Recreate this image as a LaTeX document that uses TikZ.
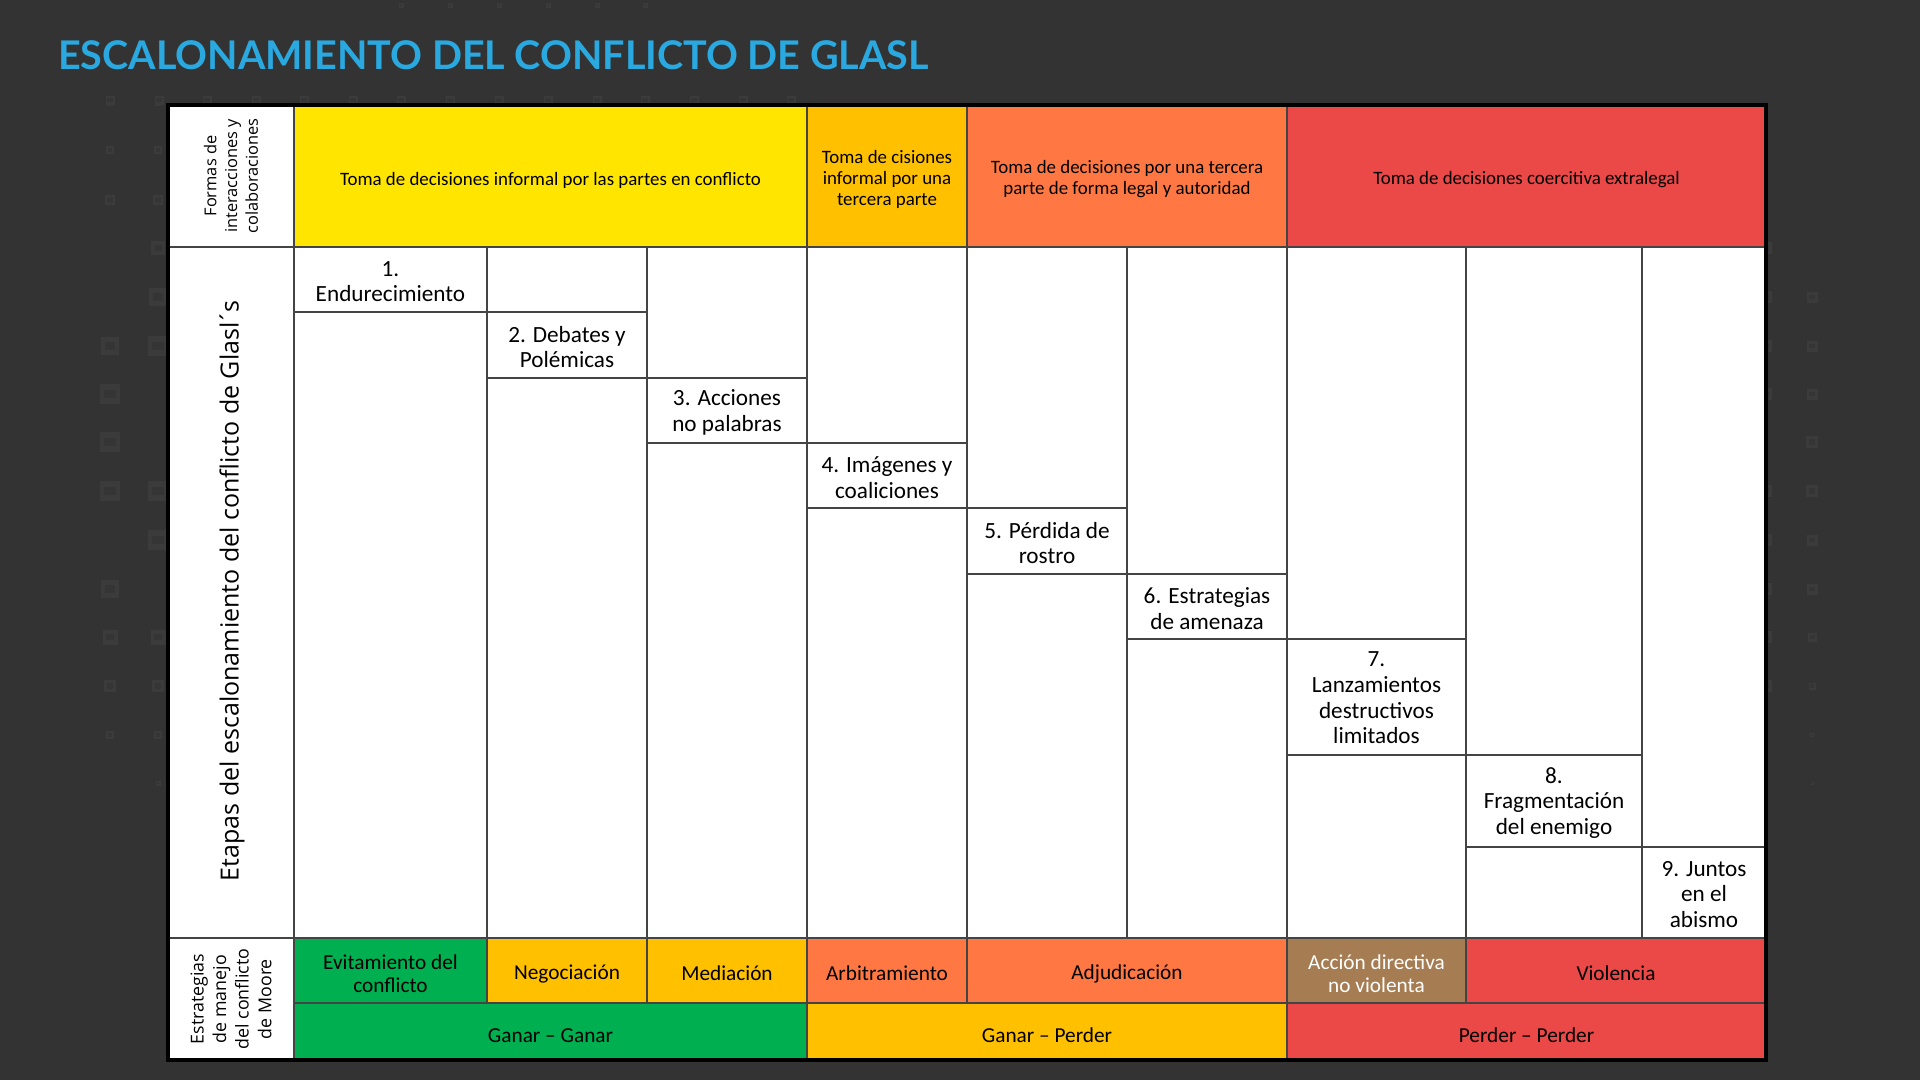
\documentclass[tikz,border=0pt]{standalone}
\usepackage{fontspec}
\setmainfont{Carlito}
\newfontfamily\titlefont{Lato}
\newfontfamily\sidefont{Open Sans}
\definecolor{bgc}{HTML}{333333}
\definecolor{decoA}{HTML}{3B3B3B}
\definecolor{decoB}{HTML}{353535}
\definecolor{titleblue}{HTML}{2AA8E0}
\definecolor{cyel}{HTML}{FFE500}
\definecolor{camb}{HTML}{FFC000}
\definecolor{cora}{HTML}{FF7843}
\definecolor{cred}{HTML}{EB4848}
\definecolor{cgrn}{HTML}{00B050}
\definecolor{cbrn}{HTML}{A67C52}
\definecolor{linec}{HTML}{444444}
\tikzset{
  cellbox/.style={draw=linec, line width=1.2pt, inner sep=0pt, align=center, rectangle},
  stagetxt/.style={font=\fontsize{23.2}{25.7}\selectfont},
  headtxt/.style={font=\fontsize{18.9}{21}\selectfont},
  mooretxt/.style={font=\fontsize{21.3}{23.5}\selectfont},
  sidetxt/.style={rotate=90, align=center, inner sep=0pt},
  gridline/.style={draw=linec, line width=1.2pt},
}
% box node (#1) and its text node (#1t), text set a little lower by #8
\newcommand\cellnode[8]{%
  \node[cellbox,#6,minimum width={(#4-#2)*1pt},minimum height={(#5-#3)*1pt}] (#1) at ({(#2+#4)/2},{(#3+#5)/2}) {};
  \node[cellbox,#6,draw=none,fill=none] (#1t) at ({(#2+#4)/2},{(#3+#5)/2+#8}) {#7};}
\newcommand\decosq[3]{%
  \fill[decoA] ({#1-#3/2},{#2-#3/2}) rectangle ({#1+#3/2},{#2+#3/2});
  \fill[decoB] ({#1-#3*0.28},{#2-#3*0.22}) rectangle ({#1+#3*0.28},{#2+#3*0.22});}
\begin{document}
\begin{tikzpicture}[x=1pt,y=-1pt]
\useasboundingbox (0,0) rectangle (1920,1080);
\fill[bgc] (0,0) rectangle (1920,1080);
% decorative faint squares
\foreach \yy/\ss in {103/6,150/8,200/10,346/18,394/20,442/20,491/20,589/18,637/15,686/12,735/8}{\decosq{110}{\yy}{\ss}}
\foreach \yy/\ss in {103/6,150/8,200/10,248/14,297/18,346/20,491/20,540/20,637/15,686/12,735/8,783/5}{\decosq{158}{\yy}{\ss}}
\foreach \yy/\ss in {297/11,346/11,394/11,442/12,491/12,540/11,589/11,637/9,686/7,735/4,783/3}{\decosq{1812}{\yy}{\ss}}
\foreach \yy in {248,297,346,394,491,540,589,637,686}{\decosq{1766}{\yy}{12}}
\foreach \xx in {401,450,499,548,597,645}{\decosq{\xx}{5}{5}}
\foreach \xx in {110,159,207,256,304,353,401,450,499,548,597,645,694,743,791}{\decosq{\xx}{100}{9}}
% title
\node[anchor=west, inner sep=0pt, text=titleblue, font=\titlefont\bfseries\fontsize{39.5}{44}\selectfont] (title) at (58,55) {ESCALONAMIENTO DEL CONFLICTO DE GLASL};
% table base
\fill[white] (168,105) rectangle (1766,1060);
% left label column
\cellnode{lab1}{168}{105}{294}{247}{fill=white}{}{0}
\cellnode{lab2}{168}{247}{294}{938}{fill=white}{}{0}
\cellnode{lab3}{168}{938}{294}{1060}{fill=white}{}{0}
\node[sidetxt, font=\sidefont\fontsize{16.4}{20.8}\selectfont] (lab1x) at (231,176) {Formas de\\interacciones y\\colaboraciones};
\node[sidetxt, font=\sidefont\fontsize{25}{28}\selectfont] (lab2x) at (232,591) {Etapas del escalonamiento del conflicto de Glasl\kern-2.5pt´\kern-2.5pt s};
\node[sidetxt, font=\sidefont\fontsize{17.8}{22.6}\selectfont] (lab3x) at (231,999) {Estrategias\\de manejo\\del conflicto\\de Moore};
% header row
\cellnode{h1}{294}{105}{807}{247}{fill=cyel,headtxt}{Toma de decisiones informal por las partes en conflicto}{4}
\cellnode{h2}{807}{105}{967}{247}{fill=camb,headtxt}{Toma de cisiones\\informal por una\\tercera parte}{3}
\cellnode{h3}{967}{105}{1287}{247}{fill=cora,headtxt}{Toma de decisiones por una tercera\\parte de forma legal y autoridad}{3}
\cellnode{h4}{1287}{105}{1766}{247}{fill=cred,headtxt}{Toma de decisiones coercitiva extralegal}{4}
% stage column lines
\foreach \xx in {487,647,807,967,1127,1287,1466,1642}{\draw[gridline] (\xx,247) -- (\xx,938);}
% stage boxes
\cellnode{s1}{294}{247}{487}{312}{fill=white,stagetxt}{1.\\Endurecimiento}{2}
\cellnode{s2}{487}{312}{647}{378}{fill=white,stagetxt}{2. Debates y\\Polémicas}{2}
\cellnode{s3}{647}{378}{807}{443}{fill=white,stagetxt}{3. Acciones\\no palabras}{2}
\cellnode{s4}{807}{443}{967}{508}{fill=white,stagetxt}{4. Imágenes y\\coaliciones}{2}
\cellnode{s5}{967}{508}{1127}{574}{fill=white,stagetxt}{5. Pérdida de\\rostro}{2}
\cellnode{s6}{1127}{574}{1287}{639}{fill=white,stagetxt}{6. Estrategias\\de amenaza}{2}
\cellnode{s7}{1287}{639}{1466}{755}{fill=white,stagetxt}{7.\\Lanzamientos\\destructivos\\limitados}{1}
\cellnode{s8}{1466}{755}{1642}{847}{fill=white,stagetxt}{8.\\Fragmentación\\del enemigo}{2}
\cellnode{s9}{1642}{847}{1766}{938}{fill=white,stagetxt}{9. Juntos\\en el\\abismo}{2}
% Moore strategies row
\cellnode{m1}{294}{938}{487}{1003}{fill=cgrn,mooretxt}{Evitamiento del\\conflicto}{3}
\cellnode{m2}{487}{938}{647}{1003}{fill=camb,mooretxt}{Negociación}{3}
\cellnode{m3}{647}{938}{807}{1003}{fill=camb,mooretxt}{Mediación}{3}
\cellnode{m4}{807}{938}{967}{1003}{fill=cora,mooretxt}{Arbitramiento}{3}
\cellnode{m5}{967}{938}{1287}{1003}{fill=cora,mooretxt}{Adjudicación}{3}
\cellnode{m6}{1287}{938}{1466}{1003}{fill=cbrn,mooretxt,text=white}{Acción directiva\\no violenta}{3}
\cellnode{m7}{1466}{938}{1766}{1003}{fill=cred,mooretxt}{Violencia}{3}
% outcome row
\cellnode{w1}{294}{1003}{807}{1060}{fill=cgrn,mooretxt}{Ganar – Ganar}{4}
\cellnode{w2}{807}{1003}{1287}{1060}{fill=camb,mooretxt}{Ganar – Perder}{4}
\cellnode{w3}{1287}{1003}{1766}{1060}{fill=cred,mooretxt}{Perder – Perder}{4}
% outer border
\draw[line width=4pt, black] (168,105) rectangle (1766,1060);
\end{tikzpicture}
\end{document}
